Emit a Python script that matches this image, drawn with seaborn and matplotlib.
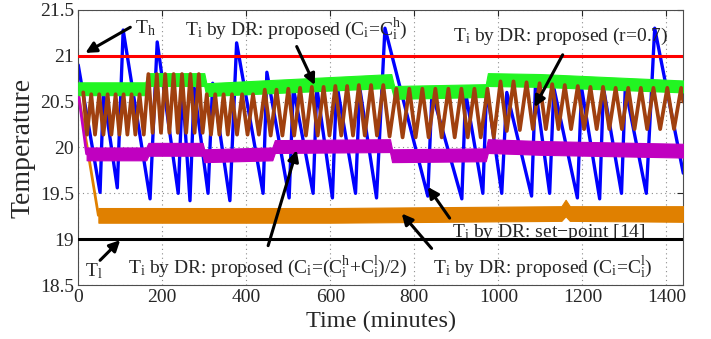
import numpy as np
import pandas as pd
import seaborn as sns
import matplotlib
matplotlib.use('Agg')
import matplotlib.pyplot as plt

# T_i by DR: set-point [14] (blue) - vertices
blue_t = [0, 52, 60, 93, 107, 171, 188, 238, 248, 266, 276, 309, 320, 361, 377, 440,
          449, 502, 512, 559, 568, 605, 615, 660, 670, 710, 730, 832, 842, 913, 922,
          963, 972, 1008, 1020, 1079, 1088, 1122, 1132, 1188, 1198, 1241, 1250, 1293,
          1302, 1352, 1372, 1440]
blue_T = [20.9, 19.51, 20.6, 19.56, 21.28, 19.44, 21.15, 19.5, 20.65, 19.42, 20.65,
          19.5, 20.7, 19.42, 21.14, 19.5, 20.82, 19.45, 20.65, 19.5, 20.65, 19.45,
          20.7, 19.5, 20.65, 19.45, 21.3, 19.47, 20.6, 19.44, 20.6, 19.5, 20.65, 19.5,
          20.6, 19.47, 20.65, 19.5, 20.65, 19.45, 20.65, 19.44, 20.65, 19.5, 20.65,
          19.5, 21.3, 19.72]

# T_i by DR: proposed (r=0.7) (brown) - peaks and troughs of the sawtooth
brown_peak_t = [12, 31, 50, 70, 89, 108, 127, 146, 167, 187, 207, 227, 247, 267, 287,
                306, 326, 346, 366, 390, 416, 444, 472, 500, 528, 556, 584, 612, 640,
                668, 697, 726, 757, 788, 819, 850, 881, 912, 943, 974, 1005, 1036,
                1067, 1098, 1128, 1158, 1189, 1219, 1249, 1279, 1309, 1339, 1369,
                1402, 1435]
brown_peak_T = [20.6, 20.58, 20.58, 20.58, 20.58, 20.58, 20.58, 20.58,
                20.8, 20.8, 20.8, 20.8, 20.8, 20.8, 20.8,
                20.58, 20.58, 20.58, 20.58, 20.58, 20.58,
                20.63, 20.63, 20.64, 20.65, 20.66, 20.66, 20.67, 20.67, 20.68, 20.68, 20.68,
                20.64, 20.64, 20.64, 20.64, 20.64, 20.64, 20.64, 20.64,
                20.72, 20.72, 20.71, 20.7, 20.69, 20.68, 20.67, 20.66, 20.66, 20.65,
                20.65, 20.65, 20.65, 20.65, 20.65]
brown_trough_t = [21, 40, 60, 79, 98, 117, 136, 156, 177, 197, 217, 237, 257, 277, 296,
                  316, 336, 356, 378, 403, 430, 458, 486, 514, 542, 570, 598, 626, 654,
                  682, 711, 741, 772, 803, 834, 865, 896, 927, 958, 989, 1020, 1051,
                  1082, 1113, 1143, 1173, 1204, 1234, 1264, 1294, 1324, 1354, 1385,
                  1418, 1440]
brown_trough_T = [20.14, 20.14, 20.14, 20.14, 20.14, 20.14, 20.14, 20.14,
                  20.16, 20.16, 20.16, 20.16, 20.16, 20.16, 20.16,
                  20.14, 20.14, 20.14, 20.14, 20.14, 20.14,
                  20.13, 20.13, 20.13, 20.13, 20.13, 20.13, 20.13, 20.13, 20.13, 20.13, 20.12,
                  20.11, 20.11, 20.11, 20.11, 20.11, 20.11, 20.11, 20.11,
                  20.18, 20.19, 20.2, 20.2, 20.2, 20.2, 20.2, 20.2, 20.2, 20.2,
                  20.2, 20.2, 20.2, 20.2, 20.5]

# T_i by DR: proposed (C_i=C_i^h) (green band)
green_t = [0, 160, 165, 300, 305, 745, 752, 970, 975, 1100, 1440]
green_lo = [20.57, 20.57, 20.67, 20.67, 20.56, 20.65, 20.53, 20.55, 20.67, 20.66, 20.6]
green_hi = [20.71, 20.71, 20.81, 20.81, 20.7, 20.8, 20.67, 20.69, 20.81, 20.8, 20.73]

# T_i by DR: proposed (C_i=(C_i^h+C_i^l)/2) (magenta band)
mag_start_t = [0, 20]
mag_start_T = [20.6, 19.93]
mag_t = [20, 162, 167, 296, 300, 462, 468, 742, 747, 970, 975, 1100, 1440]
mag_lo = [19.86, 19.86, 19.91, 19.91, 19.84, 19.86, 19.94, 19.95, 19.84, 19.85, 19.94, 19.92, 19.89]
mag_hi = [20.0, 20.0, 20.05, 20.05, 19.98, 20.0, 20.08, 20.09, 19.98, 19.99, 20.09, 20.07, 20.04]

# T_i by DR: proposed (C_i=C_i^l) (orange band)
orange_start_t = [0, 48]
orange_start_T = [20.6, 19.26]
orange_t = [48, 600, 1150, 1160, 1170, 1440]
orange_lo = [19.18, 19.18, 19.2, 19.25, 19.2, 19.19]
orange_hi = [19.34, 19.34, 19.36, 19.43, 19.36, 19.36]

T_high = 21.0
T_low = 19.0
x_ticks = [0, 200, 400, 600, 800, 1000, 1200, 1400]
y_ticks = [18.5, 19, 19.5, 20, 20.5, 21, 21.5]

sns.set_style('white')
plt.rcParams['font.family'] = ['Liberation Serif', 'DejaVu Serif']
plt.rcParams['mathtext.fontset'] = 'custom'
plt.rcParams['mathtext.rm'] = 'Liberation Serif'
plt.rcParams['mathtext.it'] = 'Liberation Serif:italic'

fig = plt.figure(figsize=(7.11, 3.39), dpi=100)
ax = fig.add_axes([0.110, 0.159, 0.851, 0.812])

brown_t = [v for pair in zip(brown_peak_t, brown_trough_t) for v in pair]
brown_T = [v for pair in zip(brown_peak_T, brown_trough_T) for v in pair]

blue_c = '#0000ff'
orange_c = '#e08000'
mag_c = '#c000c0'
green_c = '#22f522'
brown_c = '#a0400f'

sns.lineplot(x=blue_t, y=blue_T, color=blue_c, lw=2.4, sort=False, estimator=None, ax=ax, zorder=2)

sns.lineplot(x=orange_start_t, y=orange_start_T, color=orange_c, lw=2, sort=False, estimator=None, ax=ax, zorder=3)
ax.fill_between(orange_t, orange_lo, orange_hi, color=orange_c, lw=0.8, zorder=3)

sns.lineplot(x=mag_start_t, y=mag_start_T, color=mag_c, lw=2, sort=False, estimator=None, ax=ax, zorder=4)
ax.fill_between(mag_t, mag_lo, mag_hi, color=mag_c, lw=0.8, zorder=4)

ax.fill_between(green_t, green_lo, green_hi, color=green_c, lw=0.8, zorder=5)

sns.lineplot(x=brown_t, y=brown_T, color=brown_c, lw=2.7, sort=False, estimator=None, ax=ax, zorder=6)

ax.axhline(T_high, color='#ff0000', lw=2.2, zorder=7)
ax.axhline(T_low, color='black', lw=2.2, zorder=7)

ax.set_xlim(0, 1440)
ax.set_ylim(18.5, 21.5)
ax.set_xticks(x_ticks)
ax.set_yticks(y_ticks)
ax.set_yticklabels(['%g' % v for v in y_ticks])
ax.grid(True, linestyle=(0, (1, 3)), color='0.55', lw=0.8)
ax.set_axisbelow(True)
ax.tick_params(direction='in', top=True, right=True, labelsize=14, length=4, width=0.8, pad=3)
for s in ax.spines.values():
    s.set_color('0.3')
    s.set_linewidth(0.8)
ax.set_xlabel('Time (minutes)', fontsize=17.5, labelpad=3)
ax.set_ylabel('Temperature', fontsize=20, labelpad=3)

fs = 14
arrow = dict(arrowstyle='-|>', color='black', lw=2.2, mutation_scale=16, shrinkA=0, shrinkB=0)

ax.text(136, 21.24, r'T$_\mathrm{h}$', fontsize=fs, zorder=9)
ax.annotate('', xy=(17, 21.03), xytext=(124, 21.31), arrowprops=arrow, zorder=9)

ax.text(254, 21.23, r'T$_\mathrm{i}$ by DR: proposed (C$_\mathrm{i}$=C$_\mathrm{i}^\mathrm{h}$)',
        fontsize=fs, zorder=9)
ax.annotate('', xy=(563, 20.68), xytext=(520, 21.1), arrowprops=arrow, zorder=9)

ax.text(891, 21.16, r'T$_\mathrm{i}$ by DR: proposed (r=0.7)', fontsize=fs, zorder=9)
ax.annotate('', xy=(1086, 20.44), xytext=(1153, 21.01), arrowprops=arrow, zorder=9)

ax.text(17, 18.6, r'T$_\mathrm{l}$', fontsize=fs, zorder=9)
ax.annotate('', xy=(100, 18.99), xytext=(52, 18.77), arrowprops=arrow, zorder=9)

ax.text(119, 18.64, r'T$_\mathrm{i}$ by DR: proposed (C$_\mathrm{i}$=(C$_\mathrm{i}^\mathrm{h}$+C$_\mathrm{i}^\mathrm{l}$)/2)',
        fontsize=fs, zorder=9)
ax.annotate('', xy=(520, 19.97), xytext=(452, 18.93), arrowprops=arrow, zorder=9)

ax.text(844, 18.64, r'T$_\mathrm{i}$ by DR: proposed (C$_\mathrm{i}$=C$_\mathrm{i}^\mathrm{l}$)',
        fontsize=fs, zorder=9)
ax.annotate('', xy=(770, 19.28), xytext=(841, 18.9), arrowprops=arrow, zorder=9)

ax.text(889, 19.02, r'T$_\mathrm{i}$ by DR: set−point [14]', fontsize=fs, zorder=6.5)
ax.annotate('', xy=(832, 19.57), xytext=(884, 19.23), arrowprops=arrow, zorder=9)

fig.savefig('out.png', dpi=100)
